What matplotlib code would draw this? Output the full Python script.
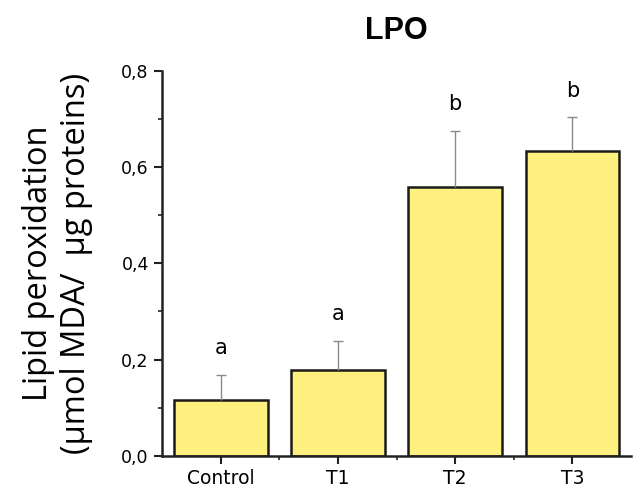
import numpy as np
import matplotlib.pyplot as plt
from matplotlib.ticker import MultipleLocator, FixedLocator, FuncFormatter

# Datos
groups = ['Control', 'T1', 'T2', 'T3']
lpo_mean = [0.115, 0.179, 0.559, 0.634]
lpo_err = [0.053, 0.060, 0.116, 0.069]
letters = ['a', 'a', 'b', 'b']

x = np.arange(len(groups))
mean = np.array(lpo_mean)
err = np.array(lpo_err)

fig = plt.figure(figsize=(6.33, 4.88), dpi=100)
ax = fig.add_axes([0.256, 0.066, 0.741, 0.789])

ax.bar(x, mean, width=0.8, color='#fdf07f', edgecolor='#1a1a1a', linewidth=1.8, zorder=2)

# solo la barra de error superior (gris, con tope pequeño)
ax.errorbar(x, mean, yerr=[np.zeros_like(err), err], fmt='none', ecolor='#8a8a8a',
            elinewidth=1.0, capsize=0, zorder=3)
ax.plot(x, mean + err, ls='none', marker='_', ms=7, mew=1.0, color='#8a8a8a', zorder=3)

# letras de significancia
for xi, m, e, lab in zip(x, mean, err, letters):
    ax.text(xi, m + e + 0.035, lab, ha='center', va='bottom', fontsize=15,
            family='DejaVu Sans')

ax.set_xlim(-0.5, 3.5)
ax.set_ylim(0, 0.8)
ax.set_xticks(x)
ax.set_xticklabels(groups, fontsize=13.5)
ax.xaxis.set_minor_locator(FixedLocator([0.5, 1.5, 2.5]))
ax.yaxis.set_major_locator(MultipleLocator(0.2))
ax.yaxis.set_minor_locator(MultipleLocator(0.1))
ax.yaxis.set_major_formatter(FuncFormatter(lambda v, p: f'{v:.1f}'.replace('.', ',')))
ax.tick_params(axis='y', labelsize=12.5)
ax.tick_params(which='major', direction='out', length=6, width=1.5, color='#222222')
ax.tick_params(which='minor', direction='out', length=3, width=1.2, color='#222222')

for s in ['top', 'right']:
    ax.spines[s].set_visible(False)
for s in ['left', 'bottom']:
    ax.spines[s].set_linewidth(1.8)
    ax.spines[s].set_color('#222222')

ax.set_ylabel('Lipid peroxidation\n(µmol MDA/  µg proteins)', fontsize=23.5,
              family='Open Sans', linespacing=1.2, labelpad=20)
ax.set_title('LPO', fontsize=22, fontweight='bold', family='Liberation Sans', pad=23)

fig.savefig('out.png', dpi=100)
